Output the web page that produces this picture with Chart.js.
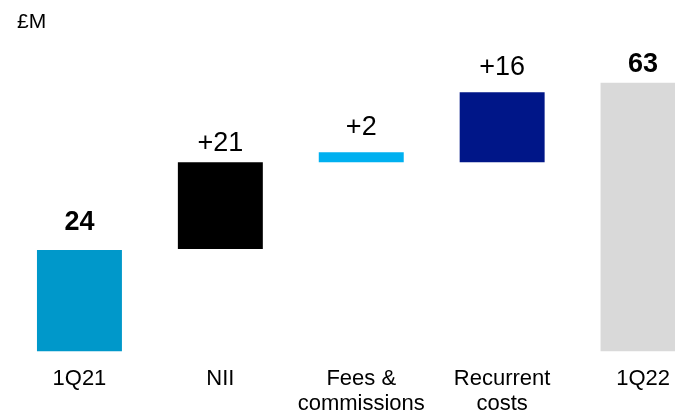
<!DOCTYPE html>
<html>
<head>
<meta charset="utf-8">
<script src="https://cdn.jsdelivr.net/npm/chart.js@4/dist/chart.umd.min.js"></script>
<style>
    html, body { margin: 0; padding: 0; background: #fff; overflow: hidden; }
    #wrap { width: 720px; height: 413px; }
</style>
</head>
<body>
<div id="wrap"><canvas id="bridge-chart" width="720" height="413"></canvas></div>
<script>
// categories and values (floating bars: [from, to])
var categories = ['1Q21', 'NII', ['Fees &', 'commissions'], ['Recurrent', 'costs'], '1Q22'];
var barStart = [0, 24, 44.4, 44.4, 0];
var barEnd = [23.8, 44.4, 46.7, 60.8, 63];
var valueLabels = ['24', '+21', '+2', '+16', '63'];
var totalFlags = [true, false, false, false, true];
var barColors = ['#0098CA', '#000000', '#00B0F0', '#001688', '#D9D9D9'];
var unitLabel = '£M';

var bars = [];
$each = function (arr, fn) { for (var i = 0; i < arr.length; i++) fn(i, arr[i]); };
$each(barStart, function (inx, val) {
    bars.push([val, barEnd[inx]]);
});

var labelPlugin = {
    id: 'bridgeLabels',
    afterDatasetsDraw: function (chart, args, opts) {
        var ctx = chart.ctx;
        var meta = chart.getDatasetMeta(0);
        ctx.save();
        ctx.fillStyle = '#000';
        ctx.textAlign = 'center';
        ctx.textBaseline = 'alphabetic';
        meta.data.forEach(function (bar, i) {
            var top = Math.min(bar.y, bar.base);
            ctx.font = (totalFlags[i] ? 'bold ' : '') + opts.size + 'px "Liberation Sans", Arial, sans-serif';
            ctx.fillText(valueLabels[i], bar.x, top - opts.gaps[i]);
        });
        // unit in the top left corner
        ctx.textAlign = 'left';
        ctx.font = '21px "Liberation Sans", Arial, sans-serif';
        ctx.fillText(unitLabel, 17, 28);
        ctx.restore();
    }
};

var context = document.getElementById('bridge-chart').getContext('2d');
var bridgeChart = new Chart(context, {
    type: 'bar',
    data: {
        labels: categories,
        datasets: [{
            data: bars,
            backgroundColor: barColors,
            borderWidth: 0,
            barPercentage: 0.603,
            categoryPercentage: 1
        }]
    },
    options: {
        responsive: false,
        animation: false,
        layout: { padding: { left: 9, right: 6.5, top: 53, bottom: -19 } },
        plugins: {
            legend: { display: false },
            tooltip: { enabled: false },
            bridgeLabels: { size: 27, gaps: [20, 11, 17, 17, 11] }
        },
        scales: {
            x: {
                grid: { display: false, drawTicks: false },
                border: { display: false },
                ticks: {
                    color: '#000',
                    padding: 15,
                    maxRotation: 0,
                    autoSkip: false,
                    font: { family: '"Liberation Sans", Arial, sans-serif', size: 22, lineHeight: 1.15 }
                }
            },
            y: {
                display: false,
                min: 0,
                max: 70
            }
        }
    },
    plugins: [labelPlugin]
});
</script>
</body>
</html>
